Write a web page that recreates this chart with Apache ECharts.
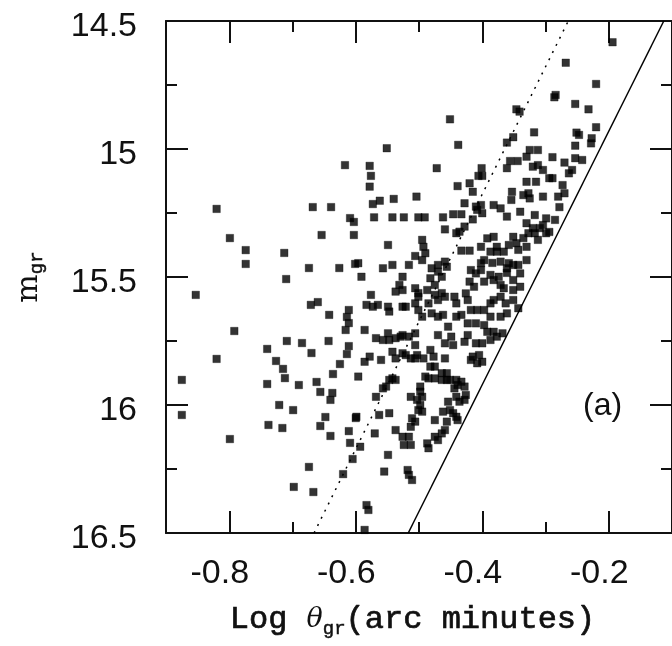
<!DOCTYPE html>
<html><head><meta charset="utf-8">
<script src="https://cdn.jsdelivr.net/npm/echarts@6/dist/echarts.min.js"></script>
<style>html,body{margin:0;padding:0;background:#fff}#c{width:672px;height:646px}</style>
</head><body><div id="c"></div>
<script>
const xMajorTicks = [-0.8, -0.6, -0.4, -0.2];
const xMinorTicks = [-0.7, -0.5, -0.3, -0.1];
const yMajorTicks = [14.5, 15, 15.5, 16, 16.5];
const yMinorTicks = [14.75, 15.25, 15.75, 16.25];
const dottedLine = [[-0.666, 16.5], [-0.264, 14.5]];
const solidLine = [[-0.517, 16.5], [-0.113, 14.5]];
const galaxies = [
[-0.875,15.902],[-0.875,16.039],[-0.853,15.570],[-0.820,15.234],[-0.820,15.820],[-0.799,15.348],[-0.792,15.711],[-0.799,16.133],[-0.774,15.395],[-0.774,15.449],
[-0.740,15.781],[-0.740,15.918],[-0.738,16.078],[-0.726,15.828],[-0.716,16.090],[-0.715,15.859],[-0.713,15.406],[-0.712,15.895],[-0.710,15.508],[-0.709,15.750],
[-0.721,16.000],[-0.699,16.020],[-0.698,16.320],[-0.690,15.922],[-0.685,15.758],[-0.674,16.242],[-0.667,16.340],[-0.668,15.227],[-0.639,15.227],[-0.671,15.609],
[-0.660,15.598],[-0.674,15.465],[-0.670,15.797],[-0.662,15.910],[-0.656,15.949],[-0.648,16.047],[-0.656,16.082],[-0.640,16.121],[-0.654,15.336],[-0.642,15.648],
[-0.643,15.750],[-0.637,15.953],[-0.640,15.980],[-0.636,15.879],[-0.626,15.465],[-0.625,15.840],[-0.620,16.270],[-0.611,15.629],[-0.614,15.656],[-0.611,15.680],
[-0.616,15.707],[-0.611,15.770],[-0.614,15.801],[-0.609,15.270],[-0.603,15.285],[-0.603,15.336],[-0.601,15.449],[-0.600,16.051],[-0.611,16.102],[-0.609,16.148],
[-0.605,16.211],[-0.617,15.063],
[-0.596,15.446],[-0.591,15.499],[-0.576,15.570],[-0.557,15.466],[-0.542,15.453],[-0.549,15.375],[-0.531,15.531],[-0.526,15.499],[-0.537,15.557],
[-0.578,15.066],[-0.576,15.105],[-0.578,15.147],[-0.551,14.997],[-0.573,15.215],[-0.562,15.202],[-0.540,15.195],[-0.504,15.186],
[-0.571,15.267],[-0.542,15.267],[-0.524,15.267],[-0.501,15.267],[-0.491,15.267],[-0.462,15.267],[-0.446,15.255],[-0.433,15.255],
[-0.472,15.075],[-0.451,14.884],[-0.438,14.984],[-0.439,15.145],[-0.420,15.134],[-0.415,15.167],[-0.406,15.105],[-0.400,15.105],[-0.401,15.075],
[-0.361,15.075],[-0.361,14.975],[-0.351,14.954],[-0.346,14.845],[-0.341,14.854],[-0.318,14.935],[-0.325,15.004],[-0.312,15.004],[-0.330,15.030],
[-0.356,15.047],[-0.344,15.047],[-0.289,15.032],[-0.253,15.036],[-0.242,15.043],[-0.320,15.069],[-0.312,15.063],[-0.304,15.082],[-0.270,15.053],
[-0.258,15.082],[-0.263,15.095],[-0.289,15.114],[-0.294,15.114],[-0.330,15.128],[-0.315,15.128],[-0.273,15.141],[-0.270,15.173],[-0.353,15.167],
[-0.335,15.180],[-0.327,15.173],[-0.325,15.193],[-0.304,15.186],[-0.280,15.186],[-0.194,14.583],[-0.268,14.663],[-0.220,14.746],[-0.284,14.789],
[-0.286,14.798],[-0.253,14.824],[-0.232,14.845],[-0.220,14.915],[-0.251,14.936],[-0.247,14.945],[-0.253,14.987],[-0.227,14.958],[-0.228,14.978],
[-0.354,15.199],
[-0.428,15.212],[-0.402,15.219],[-0.400,15.251],[-0.408,15.238],[-0.382,15.219],[-0.371,15.232],[-0.361,15.264],[-0.340,15.245],[-0.330,15.290],
[-0.317,15.258],[-0.299,15.271],[-0.320,15.309],[-0.309,15.309],[-0.327,15.329],[-0.317,15.329],[-0.299,15.329],[-0.312,15.355],[-0.415,15.275],
[-0.459,15.314],[-0.441,15.329],[-0.436,15.323],[-0.495,15.355],[-0.493,15.382],[-0.490,15.407],[-0.433,15.397],[-0.420,15.397],[-0.402,15.382],
[-0.392,15.349],[-0.387,15.401],[-0.377,15.401],[-0.346,15.368],[-0.330,15.382],[-0.506,15.418],[-0.495,15.434],[-0.516,15.453],[-0.480,15.466],
[-0.470,15.453],[-0.459,15.440],[-0.418,15.473],[-0.410,15.486],[-0.402,15.446],[-0.384,15.445],[-0.371,15.440],[-0.358,15.446],[-0.343,15.453],
[-0.330,15.434],[-0.340,15.486],[-0.482,15.505],[-0.464,15.499],[-0.475,15.531],[-0.420,15.518],[-0.413,15.538],[-0.397,15.518],[-0.382,15.512],
[-0.371,15.531],[-0.361,15.484],[-0.351,15.512],[-0.340,15.538],[-0.501,15.563],[-0.487,15.551],[-0.475,15.570],[-0.464,15.563],
[-0.410,15.225],[-0.428,15.303],[-0.470,15.479],[-0.456,15.460],[-0.382,15.343],[-0.377,15.382],[-0.366,15.401],[-0.358,15.375],[-0.351,15.343],
[-0.343,15.394],[-0.402,15.473],[-0.397,15.434],[-0.387,15.492],[-0.374,15.499],[-0.366,15.544],[-0.361,15.466],[-0.351,15.453],[-0.351,15.551],
[-0.526,15.551],[-0.501,15.577],[-0.506,15.544],[-0.470,15.590],[-0.459,15.577],[-0.444,15.577],[-0.441,15.603],[-0.426,15.564],[-0.423,15.590],
[-0.418,15.629],[-0.408,15.629],[-0.397,15.629],[-0.387,15.603],[-0.382,15.590],[-0.371,15.577],[-0.363,15.603],[-0.387,15.655],[-0.371,15.655],
[-0.361,15.642],[-0.351,15.590],[-0.343,15.622],[-0.506,15.603],[-0.501,15.629],[-0.495,15.655],[-0.485,15.603],[-0.480,15.642],[-0.470,15.655],
[-0.462,15.648],[-0.526,15.616],[-0.441,15.655],[-0.433,15.648],[-0.410,15.681],[-0.397,15.688],[-0.454,15.694],
[-0.526,15.727],[-0.516,15.733],[-0.506,15.766],[-0.503,15.805],[-0.526,15.798],[-0.521,15.805],[-0.513,15.818],[-0.482,15.785],[-0.493,15.818],
[-0.477,15.811],[-0.459,15.818],[-0.470,15.727],[-0.459,15.759],[-0.449,15.733],[-0.446,15.766],[-0.428,15.753],[-0.423,15.727],[-0.410,15.759],
[-0.400,15.759],[-0.387,15.746],[-0.377,15.733],[-0.368,15.720],[-0.392,15.714],[-0.382,15.714],[-0.418,15.824],[-0.408,15.837],[-0.400,15.831],
[-0.415,15.811],[-0.405,15.805],[-0.475,15.850],[-0.464,15.876],[-0.456,15.876],[-0.485,15.896],[-0.490,15.889],[-0.475,15.896],[-0.464,15.902],
[-0.456,15.902],[-0.451,15.902],[-0.482,15.850],[-0.441,15.902],[-0.433,15.909],[-0.428,15.928],[-0.426,15.961],[-0.428,15.980],[-0.436,15.987],
[-0.441,15.968],[-0.444,15.935],[-0.439,15.922],[-0.498,15.928],[-0.498,15.948],[-0.495,15.968],[-0.513,15.968],[-0.503,15.980],[-0.498,16.000],
[-0.501,16.020],[-0.495,16.026],[-0.511,16.052],[-0.506,16.065],[-0.513,16.085],[-0.454,15.987],[-0.462,16.026],[-0.451,16.020],[-0.446,16.032],
[-0.441,16.046],[-0.439,16.059],[-0.475,16.059],[-0.456,16.065],[-0.459,16.098],[-0.464,16.111],[-0.475,16.124],[-0.470,16.137],[-0.526,16.124],
[-0.516,16.124],[-0.524,16.156],[-0.513,16.156],[-0.487,16.150],[-0.485,16.169],[-0.537,16.098],
[-0.518,16.254],[-0.516,16.273],[-0.511,16.293],[-0.549,16.195],[-0.555,16.260],[-0.583,16.391],[-0.580,16.410],[-0.586,16.488],[-0.570,16.111],
[-0.599,16.046],[-0.593,16.163],[-0.563,16.039],[-0.547,16.032],[-0.583,15.609],[-0.573,15.616],[-0.565,15.609],[-0.549,15.616],[-0.547,15.635],
[-0.521,15.616],[-0.586,15.707],[-0.568,15.739],[-0.557,15.746],[-0.549,15.720],[-0.547,15.746],[-0.537,15.739],[-0.529,15.733],[-0.506,15.720],
[-0.586,15.831],[-0.578,15.811],[-0.560,15.824],[-0.542,15.792],[-0.537,15.818],[-0.506,15.818],[-0.547,15.902],[-0.542,15.896],[-0.537,15.902],
[-0.557,15.935],[-0.552,15.928],[-0.596,15.889],[-0.568,15.968],[-0.423,15.681],
[-0.278,15.227],[-0.285,15.277],[-0.304,15.297],[-0.294,15.324],[-0.335,15.348]
];

const ink = '#111';
const X_MIN = -0.9, X_MAX = -0.1, Y_MIN = 14.5, Y_MAX = 16.5;
function xAx(pos, ticks, len, showLabel, showLine) {
  return {
    type: 'value', position: pos, min: X_MIN, max: X_MAX, gridIndex: 0,
    axisLine: {show: showLine, onZero: false, lineStyle: {color: ink, width: 2}},
    axisTick: {show: true, inside: true, length: len, customValues: ticks, lineStyle: {color: ink, width: 2}},
    axisLabel: {show: showLabel, customValues: ticks, margin: 24, color: ink, fontSize: 34,
      fontFamily: 'Liberation Sans, Arial, sans-serif', padding: [0, 19, 0, 0],
      formatter: v => String(+v.toFixed(2))},
    splitLine: {show: false}
  };
}
function yAx(pos, ticks, len, showLabel, showLine) {
  return {
    type: 'value', position: pos, min: Y_MIN, max: Y_MAX, inverse: true, gridIndex: 0,
    axisLine: {show: showLine, onZero: false, lineStyle: {color: ink, width: 2}},
    axisTick: {show: true, inside: true, length: len, customValues: ticks, lineStyle: {color: ink, width: 2}},
    axisLabel: {show: showLabel, customValues: ticks, margin: 29, color: ink, fontSize: 34,
      fontFamily: 'Liberation Sans, Arial, sans-serif', verticalAlign: 'top', lineHeight: 12,
      formatter: v => String(+v.toFixed(2))},
    splitLine: {show: false}
  };
}
const monoStyle = {fontFamily: 'Liberation Mono', fontSize: 32, color: ink, lineHeight: 36,
  textBorderColor: ink, textBorderWidth: 0.7};
const xAxes = [xAx('bottom', xMajorTicks, 22, true, true), xAx('bottom', xMinorTicks, 11, false, false),
               xAx('top', xMajorTicks, 22, false, true), xAx('top', xMinorTicks, 11, false, false)];
xAxes[0].name = '{a|Log }{t|θ}{s|gr}{a|(arc minutes)}';
xAxes[0].nameLocation = 'middle';
xAxes[0].nameGap = 69;
xAxes[0].nameTextStyle = {color: ink, padding: [0, 13, 0, 0], rich: {
  a: Object.assign({}, monoStyle),
  t: {fontFamily: 'DejaVu Serif', fontStyle: 'italic', fontSize: 27, color: ink, lineHeight: 36},
  s: Object.assign({}, monoStyle, {fontSize: 19, verticalAlign: 'bottom', padding: [14, 0, 0, 0], textBorderWidth: 0.5})
}};
const yAxes = [yAx('left', yMajorTicks, 22, true, true), yAx('left', yMinorTicks, 11, false, false),
               yAx('right', yMajorTicks, 22, false, true), yAx('right', yMinorTicks, 11, false, false)];
yAxes[0].name = '{m|m}{s|gr}';
yAxes[0].nameLocation = 'middle';
yAxes[0].nameGap = 120;
yAxes[0].nameRotate = 90;
yAxes[0].nameTextStyle = {color: ink, rich: {
  m: {fontFamily: 'DejaVu Serif', fontSize: 30, color: ink, lineHeight: 34},
  s: Object.assign({}, monoStyle, {fontSize: 19, lineHeight: 34, verticalAlign: 'bottom', padding: [14, 0, 0, 0], textBorderWidth: 0.5})
}};

const chart = echarts.init(document.getElementById('c'), null, {renderer: 'canvas'});
chart.setOption({
  animation: false,
  backgroundColor: '#fff',
  grid: {left: 166, top: 21, width: 514, height: 512, containLabel: false},
  xAxis: xAxes,
  yAxis: yAxes,
  graphic: [{type: 'text', left: 583, top: 390,
    style: {text: '(a)', fontSize: 32, fontFamily: 'Liberation Sans, Arial, sans-serif', fill: ink}}],
  series: [
    {type: 'scatter', xAxisIndex: 0, yAxisIndex: 0, data: galaxies, symbol: 'rect', symbolSize: 7.5,
     itemStyle: {color: '#000', borderColor: '#000', borderWidth: 0.4}, z: 3},
    {type: 'line', xAxisIndex: 0, yAxisIndex: 0, data: dottedLine, showSymbol: false, symbol: 'none',
     lineStyle: {color: '#000', width: 1.5, type: [2, 6]}, z: 2},
    {type: 'line', xAxisIndex: 0, yAxisIndex: 0, data: solidLine, showSymbol: false, symbol: 'none',
     lineStyle: {color: '#000', width: 1.5}, z: 2}
  ]
});
</script></body></html>
